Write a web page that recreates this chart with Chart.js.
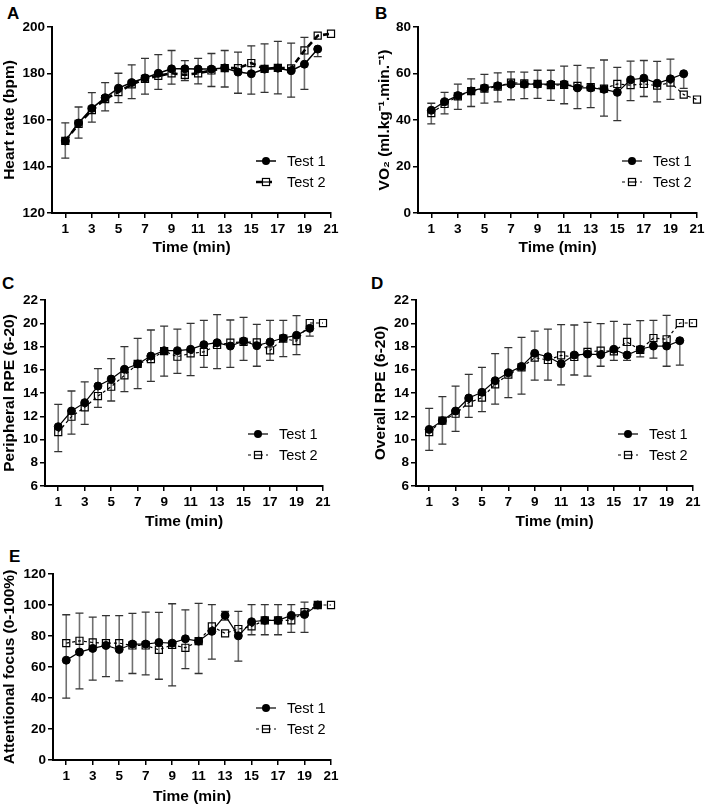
<!DOCTYPE html>
<html>
<head>
<meta charset="utf-8">
<script src="https://cdn.jsdelivr.net/npm/chart.js@4.4.0/dist/chart.umd.min.js"></script>
<style>
  body { margin: 0; background: #fff; width: 709px; height: 808px; position: relative; overflow: hidden;
         font-family: "Liberation Sans", Arial, sans-serif; }
  canvas { position: absolute; }
  .tag { position: absolute; font-weight: bold; font-size: 17px; line-height: 1; }
</style>
</head>
<body>
<div class="tag" style="left:7px;top:5px">A</div>
<div class="tag" style="left:375px;top:5px">B</div>
<div class="tag" style="left:2px;top:275px">C</div>
<div class="tag" style="left:371px;top:275px">D</div>
<div class="tag" style="left:9px;top:548px">E</div>

<canvas id="chart-a" width="354" height="265" style="left:0;top:0"></canvas>
<canvas id="chart-b" width="354" height="265" style="left:355px;top:0"></canvas>
<canvas id="chart-c" width="354" height="275" style="left:0;top:262px"></canvas>
<canvas id="chart-d" width="354" height="275" style="left:355px;top:262px"></canvas>
<canvas id="chart-e" width="354" height="268" style="left:0;top:540px"></canvas>

<script>
// time points (min)
const minutes1 = [1,2,3,4,5,6,7,8,9,10,11,12,13,14,15,16,17,18,19,20];
const minutes2 = [1,2,3,4,5,6,7,8,9,10,11,12,13,14,15,16,17,18,19,20,21];
const xTicks = [1,3,5,7,9,11,13,15,17,19,21];

// A - heart rate
const hrTest1 = [151,158.7,165,169.6,173.7,176.1,178.1,180.1,182,182,181.9,181.9,182.4,180.6,179.9,181.9,182.3,181.2,184,190.5];
const hrTest2 = [151,158.3,164.3,169,172,175.3,177.7,179,180.1,179.4,180.1,181.3,182.3,182.3,184.5,182,182.4,182.2,189.9,196.3,197.1];
const hrErrHi = [158.8,165.6,171.8,176.1,180.1,183.7,186.5,188.1,189.9,185.5,186.5,188.6,189.9,189.2,191.9,192.7,193.8,193.1,195.5,190.5];
const hrErrLo = [143.6,152.2,159.1,163.9,167.5,169.2,171.1,173.2,175.4,177,175.5,174.4,174.2,171.5,171.1,171.9,171.2,169.8,173.2,187.3];

// B - VO2
const vo2Test1 = [44.2,47.9,50.5,52.5,53.8,54.7,55.4,55.4,55.4,55.4,55.4,53.8,53.8,53.2,51.9,57.3,58,55.8,57.7,59.9];
const vo2Test2 = [43,46.9,50.2,52.4,53.5,54.4,56.1,55.7,55.5,55,55.1,54.7,54.1,53.5,55.5,55,55.5,54.8,56.1,50.9,48.8];
const vo2ErrHi = [47.2,51.9,55.4,57.7,59.6,60.3,60.7,60.6,61.4,61.4,63.2,63.5,62.4,65.8,62.6,65.3,65.6,65.2,66.2,59.9];
const vo2ErrLo = [38.3,42.6,44.6,45.8,47.3,47.8,48.7,49.2,49.3,48.4,47,44.9,45.3,41.7,39.7,48.3,50.1,47.8,48.9,53.6];

// C - peripheral RPE
const rpePTest1 = [11.1,12.45,13.17,14.6,15.2,16.04,16.5,17.18,17.64,17.64,17.76,18.16,18.33,18.04,18.47,18.07,18.39,18.73,18.96,19.56];
const rpePTest2 = [10.64,11.96,12.77,13.74,14.54,15.52,16.5,16.92,17.61,17.12,17.41,17.53,18.13,18.33,18.39,18.36,17.67,18.67,18.47,20.02,20.02];
const rpePErrHi = [13.02,14.17,14.95,16.09,16.95,17.99,18.7,19.42,19.76,19.5,19.99,20.25,20.74,20.28,20.5,19.9,20.25,20.25,20.65,19.75];
const rpePErrLo = [8.95,10.47,11.3,12.77,13.31,14.11,14.37,15,15.45,15.69,15.5,16.2,16.1,16.2,16.8,16.3,16.8,17.13,17.3,18.9];

// D - overall RPE
const rpeOTest1 = [10.87,11.62,12.45,13.57,14.06,15.06,15.75,16.29,17.41,17.12,16.52,17.27,17.35,17.3,17.76,17.27,17.76,18.04,18.04,18.5];
const rpeOTest2 = [10.64,11.62,12.22,13.17,13.6,14.75,15.58,16.21,17.04,16.84,17.24,17.1,17.53,17.64,17.58,18.39,17.7,18.73,18.62,20.02,20.02];
const rpeOErrHi = [12.68,13.68,14.6,15.6,16.2,17.38,17.9,18.79,19.32,19.5,19.88,19.85,20.08,19.96,20.16,19.9,20.22,20.25,20.68,18.5];
const rpeOErrLo = [9.07,9.6,10.7,11.9,12.4,13.05,13.6,13.91,15.1,15.1,14.7,15.55,15.46,16.3,16.8,16.8,17.1,17.0,16.3,16.4];

// E - attentional focus
const afTest1 = [64.4,69.6,72,73.9,71.3,74.8,74.8,75.8,75.4,78.2,76.7,83,93.3,80.1,89.2,90.1,90.1,93.3,93.9,100];
const afTest2 = [75.4,76.9,75.8,75.4,75.4,73.9,73.9,71.1,74.3,72.4,76.7,86.2,81.7,84.5,86.2,90.1,90.1,90.1,95.4,100,100];
const afErrHi = [93.7,94.8,92.2,93.1,93.1,94.6,95.4,95.2,100.8,96.9,101,100.2,95.8,95.9,100.2,100.2,100.2,100.2,101.9,null];
const afErrLo = [39.9,45.9,51.5,53.8,51,55.8,54.9,52.1,47.8,59,55.8,65.1,90.3,63.8,80.8,80.8,80.8,82.3,82.3,null];

const FONT = '"Liberation Sans", Arial, sans-serif';

// vertical error bars, drawn under the markers
const errorBars = {
  id: 'errorBars',
  beforeDatasetsDraw(chart, args, opts) {
    const { ctx, scales: { x, y } } = chart;
    ctx.save();
    opts.lo.forEach((lo, i) => {
      const hi = opts.hi[i];
      if (lo == null || hi == null) return;
      const px = x.getPixelForValue(minutes1[i]);
      const top = y.getPixelForValue(hi);
      const bot = y.getPixelForValue(lo);
      ctx.strokeStyle = '#707070';
      ctx.lineWidth = 1.6;
      ctx.beginPath();
      ctx.moveTo(px, top);
      ctx.lineTo(px, bot);
      ctx.stroke();
      ctx.strokeStyle = '#333';
      ctx.lineWidth = 1.3;
      ctx.beginPath();
      ctx.moveTo(px - 4, top); ctx.lineTo(px + 4, top);
      ctx.moveTo(px - 4, bot); ctx.lineTo(px + 4, bot);
      ctx.stroke();
    });
    ctx.restore();
  }
};

// legend inside the plot, bottom right
const innerLegend = {
  id: 'innerLegend',
  afterDraw(chart) {
    const { ctx, chartArea } = chart;
    const x0 = chartArea.right - 75;
    chart.data.datasets.forEach((ds, i) => {
      const yy = chartArea.bottom - 52 + i * 21;
      ctx.save();
      ctx.strokeStyle = '#000';
      ctx.lineWidth = ds.borderWidth;
      ctx.setLineDash(ds.borderDash || []);
      ctx.beginPath();
      ctx.moveTo(x0, yy);
      ctx.lineTo(x0 + 20, yy);
      ctx.stroke();
      ctx.setLineDash([]);
      ctx.lineWidth = 1.2;
      if (ds.pointStyle === 'circle') {
        ctx.fillStyle = '#000';
        ctx.beginPath();
        ctx.arc(x0 + 10, yy, ds.pointRadius, 0, Math.PI * 2);
        ctx.fill();
      } else {
        const s = ds.pointRadius * Math.SQRT1_2;
        ctx.fillStyle = '#fff';
        ctx.fillRect(x0 + 10 - s, yy - s, 2 * s, 2 * s);
        ctx.strokeRect(x0 + 10 - s, yy - s, 2 * s, 2 * s);
        ctx.beginPath();
        ctx.moveTo(x0 + 10 - s, yy); ctx.lineTo(x0 + 10 + s, yy);
        ctx.stroke();
      }
      ctx.fillStyle = '#000';
      ctx.font = '14.5px ' + FONT;
      ctx.textBaseline = 'middle';
      ctx.fillText(ds.label, x0 + 31, yy + 1);
      ctx.restore();
    });
  }
};

function panel(id, p) {
  const pts = (xs, ys) => ys.map((v, i) => ({ x: xs[i], y: v }));
  new Chart(document.getElementById(id), {
    type: 'line',
    data: {
      datasets: [{
        label: 'Test 1',
        data: pts(minutes1, p.t1),
        clip: 10,
        borderColor: '#000',
        borderWidth: p.thick ? 1.5 : 1.2,
        pointStyle: 'circle',
        pointRadius: 4,
        pointBackgroundColor: '#000',
        pointBorderColor: '#000',
        pointBorderWidth: 1
      }, {
        label: 'Test 2',
        data: pts(minutes2, p.t2),
        clip: 10,
        borderColor: '#000',
        borderWidth: p.thick ? 2.6 : 1.2,
        borderDash: p.thick ? [6, 4] : [3, 3],
        pointStyle: 'rect',
        pointRadius: 5,
        pointBackgroundColor: 'rgba(255,255,255,0)',
        pointBorderColor: '#000',
        pointBorderWidth: 1.2
      }]
    },
    options: {
      responsive: false,
      animation: false,
      events: [],
      layout: { padding: { left: 0, top: p.padTop, right: p.padRight, bottom: 0 } },
      plugins: {
        legend: { display: false },
        tooltip: { enabled: false },
        errorBars: { lo: p.lo, hi: p.hi }
      },
      scales: {
        x: {
          type: 'linear',
          min: 0,
          max: 21,
          afterBuildTicks: s => { s.ticks = xTicks.map(v => ({ value: v })); },
          afterFit: s => { s.height = p.xH; },
          border: { color: '#000', width: 2 },
          grid: { drawOnChartArea: false, drawTicks: true, tickLength: 5, color: '#000', lineWidth: 1.5 },
          ticks: { color: '#000', font: { family: FONT, size: 13.5, weight: 'bold' }, padding: 3, maxRotation: 0, autoSkip: false },
          title: { display: true, text: 'Time (min)', color: '#000',
                   font: { family: FONT, size: 15.5, weight: 'bold' }, padding: { top: 0, bottom: p.xTitlePad } }
        },
        y: {
          min: p.yMin,
          max: p.yMax,
          afterFit: s => { s.width = p.yW; },
          border: { color: '#000', width: 2 },
          grid: { drawOnChartArea: false, drawTicks: true, tickLength: 5, color: '#000', lineWidth: 1.5 },
          ticks: { stepSize: p.step, color: '#000', font: { family: FONT, size: 13.5, weight: 'bold' }, padding: 2 },
          title: { display: true, text: p.yTitle, color: '#000',
                   font: { family: FONT, size: 15.5, weight: 'bold' }, padding: { top: p.yTitlePad, bottom: 0 } }
        }
      }
    },
    plugins: [errorBars, innerLegend]
  });
}

panel('chart-a', { t1: hrTest1, t2: hrTest2, lo: hrErrLo, hi: hrErrHi, thick: true,
  yMin: 120, yMax: 200, step: 20, yTitle: 'Heart rate (bpm)',
  padTop: 27, padRight: 23, yW: 52, xH: 52, xTitlePad: 8, yTitlePad: 0 });

panel('chart-b', { t1: vo2Test1, t2: vo2Test2, lo: vo2ErrLo, hi: vo2ErrHi,
  yMin: 0, yMax: 80, step: 20, yTitle: 'VO\u2082 (ml.kg\u207B\u00B9.min.\u207B\u00B9)',
  padTop: 27, padRight: 12, yW: 63, xH: 52, xTitlePad: 8, yTitlePad: 20 });

panel('chart-c', { t1: rpePTest1, t2: rpePTest2, lo: rpePErrLo, hi: rpePErrHi,
  yMin: 6, yMax: 22, step: 2, yTitle: 'Peripheral RPE (6-20)',
  padTop: 38, padRight: 31, yW: 45, xH: 51, xTitlePad: 6, yTitlePad: 0 });

panel('chart-d', { t1: rpeOTest1, t2: rpeOTest2, lo: rpeOErrLo, hi: rpeOErrHi,
  yMin: 6, yMax: 22, step: 2, yTitle: 'Overall RPE (6-20)',
  padTop: 38, padRight: 16, yW: 61, xH: 51, xTitlePad: 6, yTitlePad: 16 });

panel('chart-e', { t1: afTest1, t2: afTest2, lo: afErrLo, hi: afErrHi,
  yMin: 0, yMax: 120, step: 20, yTitle: 'Attentional focus (0-100%)',
  padTop: 34, padRight: 23, yW: 53, xH: 48, xTitlePad: 2, yTitlePad: 0 });
</script>
</body>
</html>
